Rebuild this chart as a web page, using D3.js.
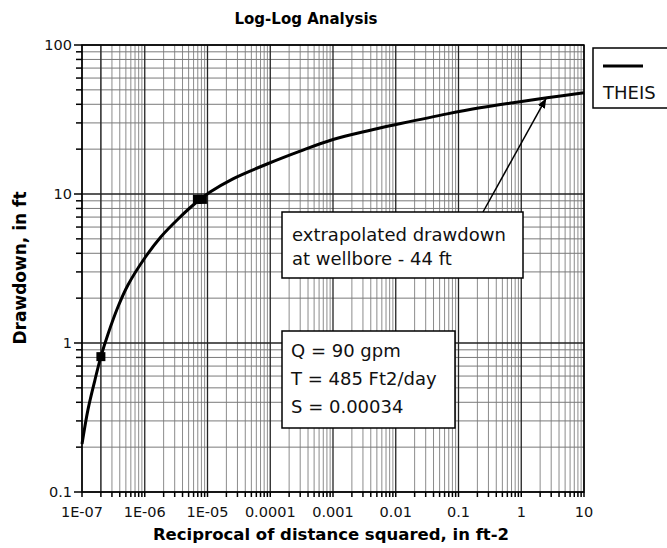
<!DOCTYPE html>
<html>
<head>
<meta charset="utf-8">
<script src="https://cdn.jsdelivr.net/npm/d3@7"></script>
<style>
  html, body { margin: 0; padding: 0; background: #fff; }
  svg { display: block; font-family: "DejaVu Sans", Verdana, sans-serif; }
</style>
</head>
<body>
<svg id="chart" width="667" height="548"></svg>
<script>
// ---- data ----
const curveX = [1e-7, 1.25e-7, 1.6e-7, 2e-7, 2.6e-7, 3.75e-7, 5.4e-7, 1e-6, 1.8e-6, 3.4e-6, 6.25e-6, 1.1e-5, 2.5e-5, 8.9e-5, 3e-4, 1e-3, 3.5e-3, 1.2e-2, 6.6e-2, 0.22, 0.74, 2.57, 10];
const curveY = [0.21, 0.36, 0.56, 0.81, 1.15, 1.75, 2.45, 3.72, 5.15, 6.8, 8.6, 10.3, 12.6, 15.9, 19.4, 23.2, 26.5, 29.7, 34.5, 37.9, 41.0, 44.2, 47.8];
const pointX = [2e-7, 6.9e-6, 8.3e-6];
const pointY = [0.81, 9.2, 9.2];
const xTickValues = [1e-7, 1e-6, 1e-5, 1e-4, 1e-3, 1e-2, 1e-1, 1, 10];
const xTickLabels = ["1E-07", "1E-06", "1E-05", "0.0001", "0.001", "0.01", "0.1", "1", "10"];
const yTickValues = [0.1, 1, 10, 100];
const yTickLabels = ["0.1", "1", "10", "100"];
const extraMajorX = [2e-7];
const arrowTipX = 2.5, arrowTipY = 44;
const titleText = "Log-Log Analysis";
const xLabel = "Reciprocal of distance squared, in ft-2";
const yLabel = "Drawdown, in ft";
const legendLabel = "THEIS";
const note1 = ["extrapolated drawdown", "at wellbore - 44 ft"];
const note2 = ["Q = 90 gpm", "T = 485 Ft2/day", "S = 0.00034"];

// ---- layout ----
const L = 82, R = 584, T = 45, B = 492;
const svg = d3.select("#chart");
const x = d3.scaleLog().domain([1e-7, 10]).range([L, R]);
const y = d3.scaleLog().domain([0.1, 100]).range([B, T]);

function minorVals(lo, hi) {
  const out = [];
  for (let e = Math.round(Math.log10(lo)); e < Math.round(Math.log10(hi)); e++) {
    for (let m = 2; m <= 9; m++) out.push(m * Math.pow(10, e));
  }
  return out;
}
const xMinor = minorVals(1e-7, 10);
const yMinor = minorVals(0.1, 100);

const grid = svg.append("g");
grid.selectAll("line.xm").data(xMinor).join("line")
  .attr("x1", d => x(d)).attr("x2", d => x(d)).attr("y1", T).attr("y2", B)
  .attr("stroke", "#8c8c8c").attr("stroke-width", 1);
grid.selectAll("line.ym").data(yMinor).join("line")
  .attr("y1", d => y(d)).attr("y2", d => y(d)).attr("x1", L).attr("x2", R)
  .attr("stroke", "#7a7a7a").attr("stroke-width", 1);
grid.selectAll("line.xM").data(xTickValues.concat(extraMajorX)).join("line")
  .attr("x1", d => x(d)).attr("x2", d => x(d)).attr("y1", T).attr("y2", B)
  .attr("stroke", "#222").attr("stroke-width", 1.3);
grid.selectAll("line.yM").data(yTickValues).join("line")
  .attr("y1", d => y(d)).attr("y2", d => y(d)).attr("x1", L).attr("x2", R)
  .attr("stroke", "#222").attr("stroke-width", 1.3);

svg.append("rect").attr("x", L).attr("y", T).attr("width", R - L).attr("height", B - T)
  .attr("fill", "none").attr("stroke", "#000").attr("stroke-width", 1.5);

const ax = svg.append("g");
ax.selectAll("line.xt").data(xMinor.concat(xTickValues)).join("line")
  .attr("x1", d => x(d)).attr("x2", d => x(d)).attr("y1", B).attr("y2", B + 5)
  .attr("stroke", "#000").attr("stroke-width", 1.5);
ax.selectAll("line.yt").data(yMinor).join("line")
  .attr("y1", d => y(d)).attr("y2", d => y(d)).attr("x1", L - 6).attr("x2", L)
  .attr("stroke", "#000").attr("stroke-width", 1.5);
ax.selectAll("line.yT").data(yTickValues).join("line")
  .attr("y1", d => y(d)).attr("y2", d => y(d)).attr("x1", L - 8).attr("x2", L)
  .attr("stroke", "#000").attr("stroke-width", 1.5);

ax.selectAll("text.xl").data(xTickValues).join("text")
  .attr("x", d => x(d)).attr("y", B + 25).attr("text-anchor", "middle")
  .attr("font-size", 14.5).attr("fill", "#111")
  .text((d, i) => xTickLabels[i]);
ax.selectAll("text.yl").data(yTickValues).join("text")
  .attr("x", L - 10).attr("y", d => y(d)).attr("dy", "0.35em").attr("text-anchor", "end")
  .attr("font-size", 14.5).attr("fill", "#111")
  .text((d, i) => yTickLabels[i]);

svg.append("text").attr("x", 306).attr("y", 24).attr("text-anchor", "middle")
  .attr("font-size", 15).attr("font-weight", "bold").text(titleText);
svg.append("text").attr("x", 331).attr("y", 540).attr("text-anchor", "middle")
  .attr("font-size", 16.5).attr("font-weight", "bold").text(xLabel);
svg.append("text").attr("transform", "translate(26,268) rotate(-90)").attr("text-anchor", "middle")
  .attr("font-size", 17).attr("font-weight", "bold").text(yLabel);

const line = d3.line().x(d => x(d[0])).y(d => y(d[1])).curve(d3.curveCatmullRom.alpha(0.5));
svg.append("path").datum(curveX.map((v, i) => [v, curveY[i]]))
  .attr("d", line).attr("fill", "none").attr("stroke", "#000").attr("stroke-width", 3);

const ps = 9;
svg.selectAll("rect.pt").data(pointX.map((v, i) => [v, pointY[i]])).join("rect")
  .attr("x", d => x(d[0]) - ps / 2).attr("y", d => y(d[1]) - ps / 2)
  .attr("width", ps).attr("height", ps).attr("fill", "#000");

const b1 = {x: 282, y: 212, w: 241, h: 66};
svg.append("defs").append("marker").attr("id", "arr").attr("viewBox", "0 0 10 10")
  .attr("refX", 10).attr("refY", 5).attr("markerWidth", 10).attr("markerHeight", 10)
  .attr("markerUnits", "userSpaceOnUse").attr("orient", "auto")
  .append("path").attr("d", "M0,1 L10,5 L0,9 Z").attr("fill", "#000");
svg.append("line").attr("x1", 483).attr("y1", b1.y).attr("x2", x(arrowTipX)).attr("y2", y(arrowTipY))
  .attr("stroke", "#000").attr("stroke-width", 1.5).attr("marker-end", "url(#arr)");
svg.append("rect").attr("x", b1.x).attr("y", b1.y).attr("width", b1.w).attr("height", b1.h)
  .attr("fill", "#fff").attr("stroke", "#000").attr("stroke-width", 1.5);
svg.selectAll("text.n1").data(note1).join("text")
  .attr("x", b1.x + 10).attr("y", (d, i) => b1.y + 29 + i * 24)
  .attr("font-size", 18).attr("fill", "#111").text(d => d);

const b2 = {x: 282, y: 331, w: 173, h: 97};
svg.append("rect").attr("x", b2.x).attr("y", b2.y).attr("width", b2.w).attr("height", b2.h)
  .attr("fill", "#fff").attr("stroke", "#000").attr("stroke-width", 1.5);
svg.selectAll("text.n2").data(note2).join("text")
  .attr("x", b2.x + 9).attr("y", (d, i) => b2.y + 26 + i * 28)
  .attr("font-size", 18).attr("fill", "#111").text(d => d);

svg.append("rect").attr("x", 593).attr("y", 48).attr("width", 90).attr("height", 60)
  .attr("fill", "#fff").attr("stroke", "#000").attr("stroke-width", 1.5);
svg.append("line").attr("x1", 603).attr("x2", 643).attr("y1", 66).attr("y2", 66)
  .attr("stroke", "#000").attr("stroke-width", 3);
svg.append("text").attr("x", 603).attr("y", 99).attr("font-size", 18).attr("fill", "#111").text(legendLabel);
</script>
</body>
</html>
